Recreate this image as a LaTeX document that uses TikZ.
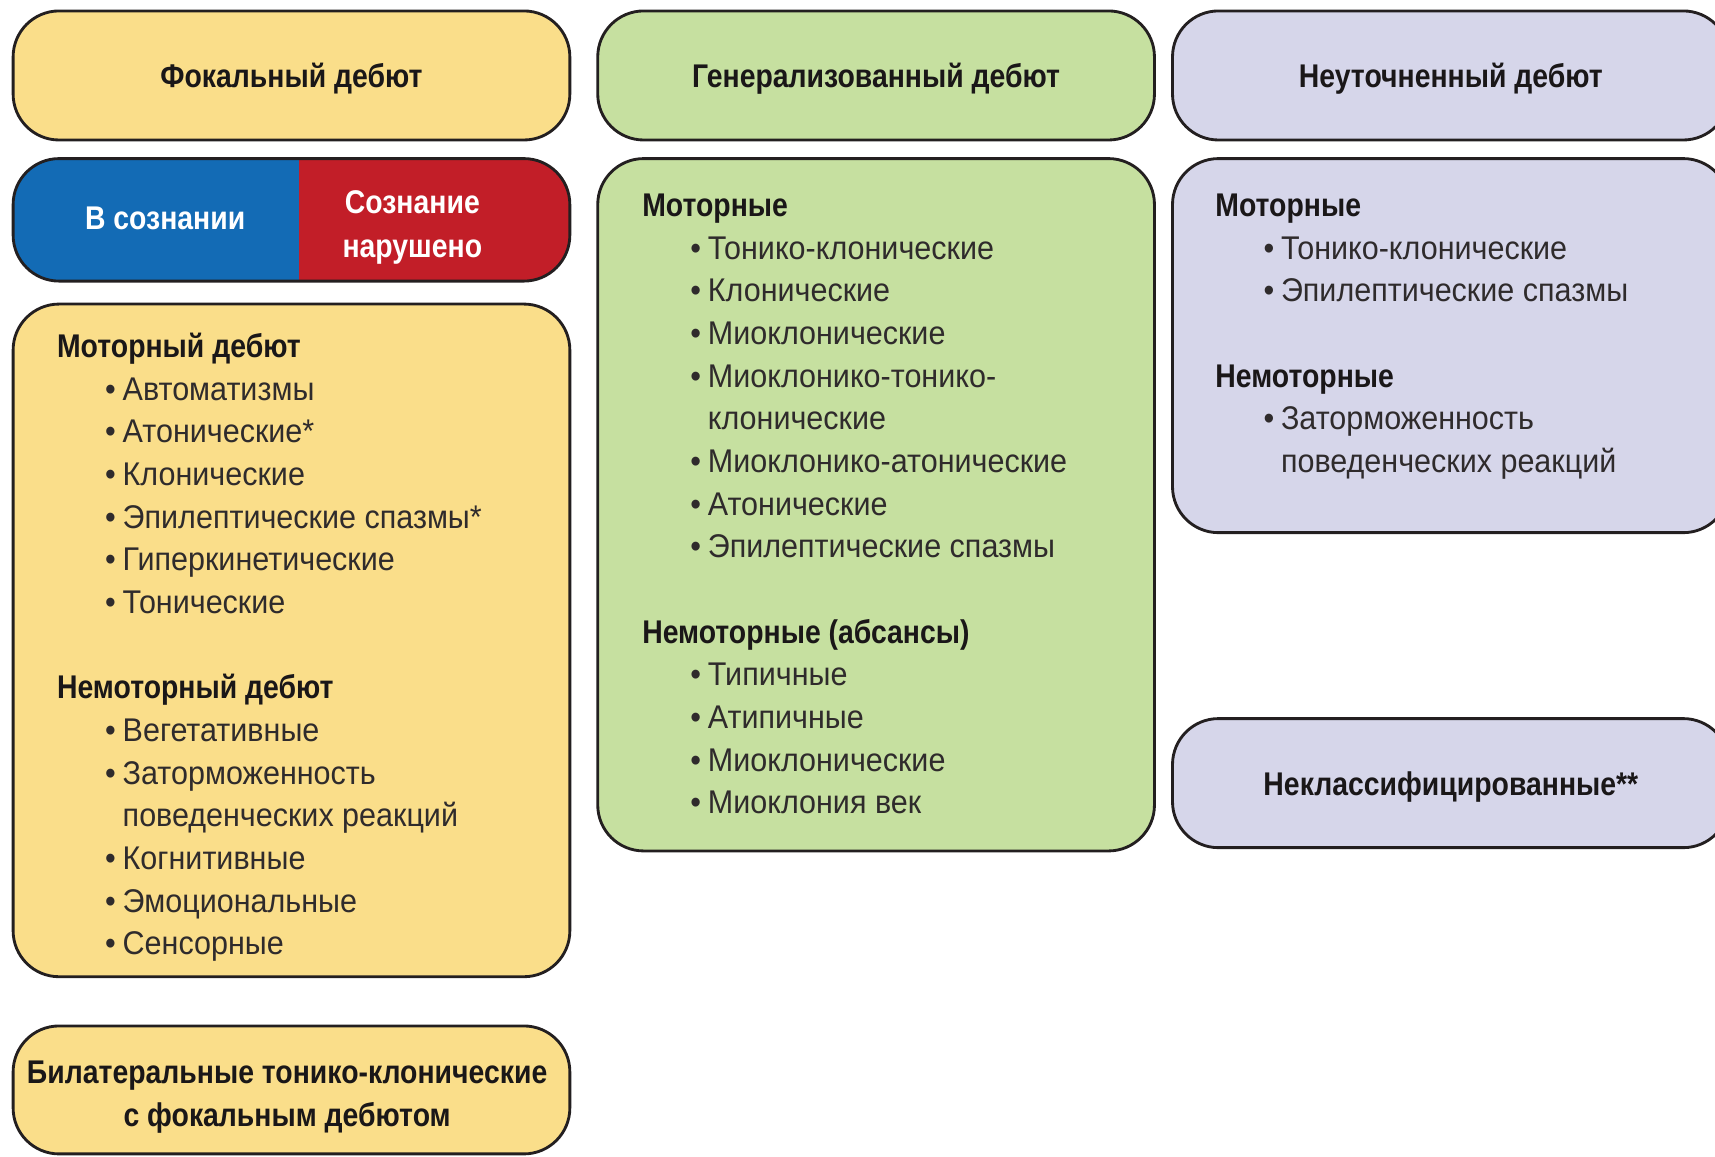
\documentclass[tikz,border=0pt]{standalone}
\usepackage{fontspec}
\setmainfont{Liberation Sans}[FakeStretch=0.93, BoldFeatures={FakeStretch=0.865}]
\usetikzlibrary{calc}
\definecolor{yel}{HTML}{FADE8A}
\definecolor{grn}{HTML}{C6E0A0}
\definecolor{prp}{HTML}{D6D6EA}
\definecolor{blu}{HTML}{136BB5}
\definecolor{rd}{HTML}{C21E28}
\definecolor{edge}{HTML}{231F20}
\definecolor{ink}{HTML}{1A1718}
\definecolor{body}{HTML}{2F2B2C}
\newcommand\hd[1]{\hbox{\bfseries\color{ink}#1}}
\newcommand\bu[1]{\hbox{\hspace*{44pt}\makebox[16pt][l]{•}#1}}
\newcommand\cn[1]{\hbox{\hspace*{60pt}#1}}
\newcommand\gp{\hbox{}}
\newcommand\lineset[1]{\vtop{\baselineskip=39pt\lineskiplimit=-100pt\lineskip=0pt #1}}
\tikzset{
  box/.style={draw=edge, line width=2.6pt, rounded corners=42pt, minimum width=509pt, inner sep=0pt},
  ttl/.style={font=\fontsize{30}{40}\selectfont\bfseries, text=ink},
  one/.style={text depth=0pt},
  lst/.style={anchor=base west, inner sep=0pt, font=\fontsize{30}{39}\selectfont, text=body},
  wht/.style={font=\fontsize{30}{40}\selectfont\bfseries, text=white, inner sep=0pt},
}
\begin{document}
\begin{tikzpicture}[x=1pt, y=-1pt]
\clip (0,0) rectangle (1568,1057);
% left column
\node[box, fill=yel, minimum height=118pt, ttl, one] (foc) at (266.5,69) {Фокальный дебют};
\node[box, minimum height=112pt, path picture={
  \fill[blu, sharp corners] (path picture bounding box.north west) rectangle ($(path picture bounding box.south)+(6.5,0)$);
  \fill[rd, sharp corners] ($(path picture bounding box.north)+(6.5,0)$) rectangle (path picture bounding box.south east);}] (cons) at (266.5,201) {};
\node[wht] (aware) at (151,200) {В сознании};
\node[wht, align=center] (impaired) at (377,208) {Сознание\\нарушено};
\node[box, fill=yel, minimum height=615pt] (mot) at (266.5,585.5) {};
\node[lst] (motlist) at (52,327) {\lineset{%
  \hd{Моторный дебют}
  \bu{Автоматизмы}
  \bu{Атонические*}
  \bu{Клонические}
  \bu{Эпилептические спазмы*}
  \bu{Гиперкинетические}
  \bu{Тонические}
  \gp
  \hd{Немоторный дебют}
  \bu{Вегетативные}
  \bu{Заторможенность}
  \cn{поведенческих реакций}
  \bu{Когнитивные}
  \bu{Эмоциональные}
  \bu{Сенсорные}}};
\node[box, fill=yel, minimum height=117pt] (bil) at (266.5,996.5) {};
\node[ttl, align=center, inner sep=0pt] (biltext) at (262.5,1003)
  {Билатеральные тонико-клонические\\с фокальным дебютом};
% middle column
\node[box, fill=grn, minimum height=118pt, ttl, one] (gen) at (801,69) {Генерализованный дебют};
\node[box, fill=grn, minimum height=633pt] (genc) at (801,461.5) {};
\node[lst] (genlist) at (587,198) {\lineset{%
  \hd{Моторные}
  \bu{Тонико-клонические}
  \bu{Клонические}
  \bu{Миоклонические}
  \bu{Миоклонико-тонико-}
  \cn{клонические}
  \bu{Миоклонико-атонические}
  \bu{Атонические}
  \bu{Эпилептические спазмы}
  \gp
  \hd{Немоторные (абсансы)}
  \bu{Типичные}
  \bu{Атипичные}
  \bu{Миоклонические}
  \bu{Миоклония век}}};
% right column
\node[box, fill=prp, minimum height=118pt, ttl, one] (unk) at (1326.5,69) {Неуточненный дебют};
\node[box, fill=prp, minimum height=342pt] (unkc) at (1326.5,316) {};
\node[lst] (unklist) at (1111,198) {\lineset{%
  \hd{Моторные}
  \bu{Тонико-клонические}
  \bu{Эпилептические спазмы}
  \gp
  \hd{Немоторные}
  \bu{Заторможенность}
  \cn{поведенческих реакций}}};
\node[box, fill=prp, minimum height=118pt, ttl, one] (uncl) at (1326.5,716) {Неклассифицированные**};
\end{tikzpicture}
\end{document}
